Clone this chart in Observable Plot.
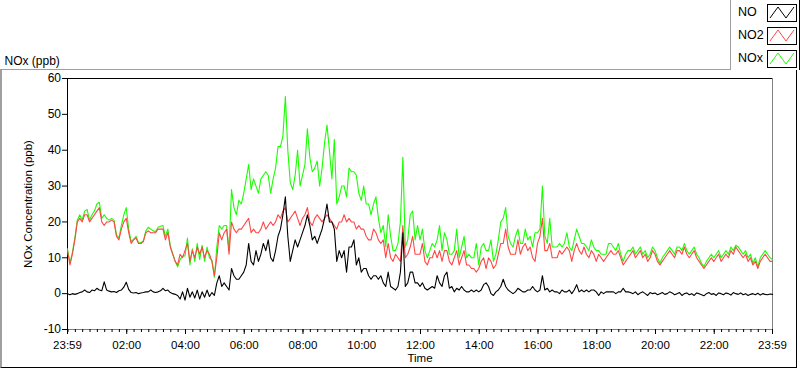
<!DOCTYPE html>
<html><head><meta charset="utf-8">
<script src="https://cdn.jsdelivr.net/npm/d3@7"></script>
<script src="https://cdn.jsdelivr.net/npm/@observablehq/plot@0.6"></script>
<style>
html,body{margin:0;padding:0;background:#fff;}
#wrap{position:relative;width:800px;height:369px;overflow:hidden;font-family:"Liberation Sans",Arial,sans-serif;}
#chart{position:absolute;left:0;top:0;}
#panel{position:absolute;left:0;top:69px;width:797px;height:299px;box-sizing:border-box;border-left:2px solid #a0a0a0;border-top:1px solid #a0a0a0;border-right:1px solid #000;border-bottom:1px solid #000;pointer-events:none;}
#legend{position:absolute;left:730px;top:0;width:70px;height:70px;box-sizing:border-box;border-left:1px solid #a0a0a0;border-right:1px solid #000;background:#fff;}
.li{position:absolute;left:0;width:68px;height:18px;}
.li span{position:absolute;left:7px;top:1px;font-size:12.5px;color:#000;}
.li svg{position:absolute;left:36px;top:0;}
</style>
</head><body>
<div id="wrap">
  <div id="chart"></div>
  <div id="panel"></div>
  <div id="legend"></div>
</div>
<script>
// sampling: one value every 5 minutes starting at 23:59
const stepMinutes = 5;
const startLabel = "23:59";

const NO = [
 0, -0.3, 0, -0.2, 0, 0.3, 0.5, 1, 0.5, 0.3, 1, 0.8,
 1.5, 1, 0.8, 3.3, 1, 0.7, 0.5, 0.6, 0.3, 0.8, 1, 1.8,
 3.2, 1.2, 0.3, 0.2, 0.3, 0, 0.2, 0.3, 0.5, 0.5, 1, 0.5,
 0.3, 0.5, 0.8, 1.5, 0.8, 1, 0.3, 0, -0.2, -0.5, -1.5, 0.5,
 -1.8, 1.5, -1, 0.5, -1.2, 1, -1.5, 0.5, -1, 1, -0.8, 0.3,
 -0.5, 3, 5, 2, 3, 2, 1, 7, 5, 4, 4, 5,
 6, 8, 14, 9, 8, 12, 9, 11, 14, 12, 15, 10,
 9, 12, 16, 18, 22, 27, 16, 9, 12, 15, 13, 15,
 17, 19, 22, 19, 15, 16, 14, 16, 18, 21, 25, 20,
 20, 18, 9, 12, 10, 12, 6, 13, 13, 15, 8, 10,
 6, 7, 7, 5, 4, 5, 5, 4, 5, 3, 2, 6,
 2, 1.5, 1, 2, 6, 17, 2, 3, 6, 6, 3, 3,
 2, 3, 1.5, 1, 1.5, 2, 1.5, 5, 3, 2, 5, 6,
 1.5, 2, 0.5, 1.5, 1, 2, 1, 0.5, 0.5, 1, 0.5, 1,
 0.5, 1, 2.5, 3, 2, 0, -0.5, 0.5, 1, 2, 4, 2,
 1, 0.5, 0, 0.5, 1.5, 1, 0.5, 0.5, 1, 1, 2, 1,
 0.5, 1, 5, 1, 1.5, 0.5, 1, 0.5, 0.5, 0, 1, 0.5,
 0.5, 1, 0, 1, 2.5, 0.5, 1, 0.5, 1, 0.5, 1, 1,
 0.5, -0.5, 0.5, 0, 0.5, 0.5, 0.5, 0.5, 0, 0.5, 0.5, 1.5,
 0.5, 0.5, 0.3, 0, 0.5, -0.3, 0.2, 0.5, 0, -0.5, 0.3, 0,
 0.2, -0.3, 0, 0.3, -0.2, 0, 0.5, 0.2, -0.3, 0, 0.3, -0.5,
 0, 0.2, -0.3, 0, -0.5, 0.2, 0, -0.3, -0.6, 0, 0.3, -0.2,
 0, -0.5, 0.2, 0, -0.3, 0.2, 0, -0.4, 0.3, 0, -0.2, 0.2,
 -0.3, 0, -0.5, -0.2, 0, -0.3, 0.1, -0.4, 0, -0.2, -0.3, -0.1,
 -0.2
];

const NO2 = [
 12, 8, 11, 15, 20, 21, 20, 22, 22, 20, 21, 22,
 23, 24, 20, 19, 20, 20, 20.5, 20, 16, 15, 18, 20,
 21, 17, 14, 15, 15.5, 14, 14, 14.5, 17, 17.5, 17, 17,
 17, 18, 18, 18, 15, 17, 13, 11, 9, 8, 11, 10,
 12, 14, 9, 12, 10, 13, 11, 13, 10, 12, 11, 9,
 5, 10, 17, 15, 17, 18, 11, 20, 18, 17, 18, 18,
 19, 20, 21, 17, 18, 17, 17, 18, 20, 18, 19, 20,
 19, 20, 22, 21, 23, 24, 20, 21, 22, 23, 21, 19,
 21, 22, 24, 20, 19, 21, 22, 21, 20, 21, 22, 21,
 20, 19, 18, 20, 20, 22, 20, 21, 20, 20, 18, 19,
 18, 18, 16, 15, 15, 18, 17, 15, 14, 15, 10, 14,
 10, 9, 11, 10, 9, 19, 10, 11, 13, 16, 11, 11,
 11, 14, 9, 8, 10, 10, 12, 10, 12, 9, 12, 12,
 9, 8, 10, 12, 8, 10, 12, 8, 8, 7, 7, 6,
 7, 9, 10, 7, 10, 9, 7, 8, 11, 14, 14, 18,
 13, 11, 11, 11, 15, 11, 13, 14, 12, 13, 10, 9,
 14, 16, 21, 12, 12, 14, 10, 10, 10, 12, 11, 12,
 13, 12, 9, 12, 14, 12, 11, 13, 11, 10, 12, 11,
 9, 11, 10, 9, 10, 11, 12, 11, 11, 12, 10, 8,
 9, 10, 11, 12, 10, 11, 12, 10, 11, 9, 10, 12,
 11, 9, 8, 9, 10, 11, 12, 11, 10, 12, 12, 11,
 13, 11, 10, 11, 12, 10, 9, 8, 7, 8, 9, 10,
 9, 10, 11, 9, 10, 11, 10, 12, 11, 13, 12, 11,
 10, 11, 9, 10, 8, 9, 7, 9, 10, 11, 10, 9,
 9
];

const NOx = [
 12.5, 8.5, 11.5, 15.5, 20.5, 22, 20.5, 23, 23.5, 20.5, 22, 23,
 25, 25.5, 21, 22, 21, 20.5, 21, 20.5, 16.5, 15.5, 19, 22,
 24, 18, 14.5, 15.2, 16, 14.2, 14.2, 14.8, 17.5, 18.5, 18, 17.5,
 17.3, 18.5, 18.8, 19, 16, 18, 13.3, 11, 9, 7.5, 9.5, 10.5,
 10.5, 15.5, 8, 12.5, 9, 14, 9.5, 13.5, 9, 13, 10, 9.3,
 4.5, 13, 19, 18, 19, 19, 12, 29, 24, 22, 26, 25,
 28, 32, 36, 29, 32, 30, 28, 32, 33, 34, 33, 28,
 32, 35, 41, 41, 44, 55, 40, 31, 29, 33, 40, 30,
 33, 36, 46, 38, 34, 35, 37, 30, 35, 42, 47, 40,
 32, 43, 25, 27, 30, 30, 27, 35, 34, 34, 33, 28,
 26, 30, 25, 25, 22, 25, 27, 21, 17, 19, 13, 22,
 16, 12, 12, 14, 20, 38, 13, 15, 22, 23, 15, 19,
 15, 18, 12, 10, 12, 14, 13, 15, 19, 12, 17, 15,
 11, 11, 12, 18, 10, 13, 16, 10, 11, 10, 10, 14,
 8, 13, 14, 12, 12, 15, 9, 11, 15, 20, 21, 24,
 16, 14, 13, 16, 18, 14, 14, 18, 15, 16, 13, 17,
 17, 18, 30, 16, 14, 21, 13, 13, 13, 14, 13, 14,
 17, 13, 12, 15, 18, 16, 14, 14, 13, 12, 15, 13,
 12, 12, 11, 11, 11, 14, 14, 13, 12, 14, 11, 9,
 11, 12, 12, 13, 11, 12, 13, 11, 12, 10, 11, 13,
 12, 10, 8.5, 10, 11, 12, 13, 12, 11, 13, 13, 12,
 14, 12, 11, 12, 13, 11, 10, 8.5, 7.5, 9, 10, 11,
 10, 11, 12, 10, 11, 12, 11, 13, 12, 13.5, 13, 12,
 11, 12, 10, 11, 8.5, 10, 7.5, 10, 11, 12, 11, 10,
 9.5
];

const seriesNames = ["NO", "NO2", "NOx"];
const seriesColors = ["#000000", "#ff4646", "#19ff00"];
const yTicks = [-10, 0, 10, 20, 30, 40, 50, 60];
const xTickLabels = ["23:59","02:00","04:00","06:00","08:00","10:00","12:00","14:00","16:00","18:00","20:00","22:00","23:59"];
const minorTickEvery = 15; // minutes on the clock

// --- helpers ---
const toMin = s => { const [h, m] = s.split(":").map(Number); return h * 60 + m; };
const start = toMin(startLabel);
const offsetOf = (label, i, arr) => i === arr.length - 1 ? 1440 : ((toMin(label) - start) % 1440 + 1440) % 1440;
const majorOffsets = xTickLabels.map(offsetOf);
const labelAt = new Map(majorOffsets.map((o, i) => [o, xTickLabels[i]]));
const minorOffsets = d3.range(0, 1440, minorTickEvery).map(c => ((c - start) % 1440 + 1440) % 1440).filter(o => o > 0 && o < 1440).sort((a, b) => a - b);

const seriesValues = {NO, NO2, NOx};
const rowsFor = name => seriesValues[name].map((v, i) => ({t: i * stepMinutes, v}));

const lineMark = name => Plot.line(rowsFor(name), {
  x: "t", y: "v",
  stroke: seriesColors[seriesNames.indexOf(name)], strokeWidth: 1.1
});

const chart = Plot.plot({
  width: 800, height: 369,
  marginLeft: 67, marginRight: 28, marginTop: 78, marginBottom: 40,
  x: {domain: [0, 1440]},
  y: {domain: [-10, 60]},
  style: {fontFamily: "'Liberation Sans', Arial, sans-serif", fontSize: "11px", color: "#000", background: "transparent"},
  marks: [
    Plot.ruleY([60], {stroke: "#000"}),
    Plot.ruleY([-10], {stroke: "#808080"}),
    Plot.ruleX([0], {stroke: "#000"}),
    Plot.ruleX([1440], {stroke: "#808080"}),
    lineMark("NOx"),
    lineMark("NO2"),
    lineMark("NO"),
    Plot.axisY(yTicks, {tickSize: 5, tickPadding: 1.5, label: null, tickFormat: d => String(d), stroke: "#000", fontSize: 12}),
    Plot.axisX(minorOffsets, {tickSize: 3, tickPadding: 0, label: null, tickFormat: () => "", stroke: "#000"}),
    Plot.axisX(majorOffsets, {tickSize: 5, tickPadding: 6, label: null, tickFormat: d => labelAt.get(d), stroke: "#000", fontSize: 11.5}),
    Plot.text(["NOx Concentration (ppb)"], {frameAnchor: "left", textAnchor: "middle", rotate: -90, dx: -39, fontSize: 11.5, fill: "#000"}),
    Plot.text(["Time"], {frameAnchor: "bottom", textAnchor: "middle", dy: 32, fontSize: 11.5, fill: "#000"}),
    Plot.text(["NOx (ppb)"], {frameAnchor: "top-left", dx: -63, dy: -22, textAnchor: "start", fontSize: 12, fill: "#000"})
  ]
});
document.getElementById("chart").appendChild(chart);

// legend
const legend = document.getElementById("legend");
const tops = [4, 27, 50];
seriesNames.forEach((name, i) => {
  const div = document.createElement("div");
  div.className = "li";
  div.style.top = tops[i] + "px";
  div.innerHTML = `<span>${name}</span><svg width="30" height="18"><rect x="0.5" y="0.5" width="29" height="17" fill="#fff" stroke="#000"/><polyline points="3,14 11,3 19,14 27,3" fill="none" stroke="${seriesColors[i]}" stroke-width="1"/></svg>`;
  legend.appendChild(div);
});
</script>
</body></html>
